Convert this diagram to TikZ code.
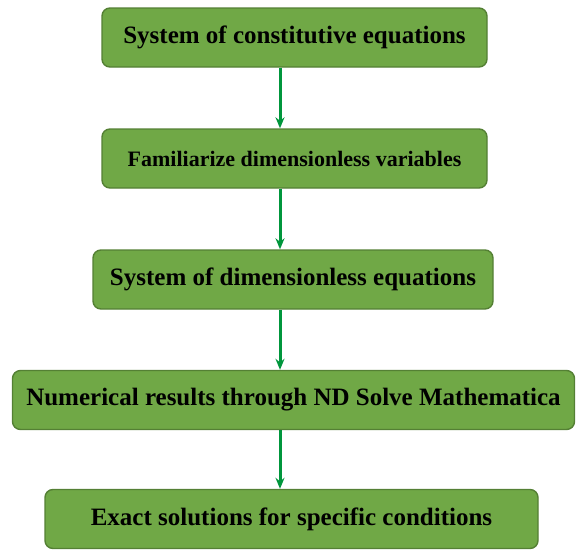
\documentclass[tikz,border=0pt]{standalone}
\usepackage{fontspec}
\setmainfont{Liberation Serif}
\usetikzlibrary{positioning, arrows.meta, calc}
\definecolor{cBox}{RGB}{112,168,70}
\definecolor{cEdge}{RGB}{84,128,52}
\definecolor{cArr}{RGB}{0,150,60}

\begin{document}
\begin{tikzpicture}[x=1pt, y=-1pt,
                    every node/.style={font=\fontsize{25}{28}\selectfont\bfseries},
                    stepbox/.style={draw=cEdge, line width=1.4pt, fill=cBox, rounded corners=8pt,
                                    minimum height=59pt, inner sep=0pt},
                    flow/.style={-{Stealth[length=11pt, width=9pt]}, draw=cArr, line width=3pt}]
    \useasboundingbox (0,0) rectangle (578,549);

    % Boxes from top to bottom
    \node[stepbox, minimum width=385pt] (B1) at (294.5, 37.5)  {System of constitutive equations};
    \node[stepbox, minimum width=385pt, font=\fontsize{22}{26}\selectfont\bfseries]
        (B2) at (294.5, 158.5) {Familiarize dimensionless variables};
    \node[stepbox, minimum width=400pt] (B3) at (293, 279.5)   {System of dimensionless equations};
    \node[stepbox, minimum width=562pt] (B4) at (293.5, 400)   {Numerical results through ND Solve Mathematica};
    \node[stepbox, minimum width=493pt] (B5) at (291.5, 519)   {Exact solutions for specific conditions};

    % Arrow line
    \coordinate (ax) at (280, 0);

    % Connectors
    \draw[flow] (B1.south -| ax) -- (B2.north -| ax);
    \draw[flow] (B2.south -| ax) -- (B3.north -| ax);
    \draw[flow] (B3.south -| ax) -- (B4.north -| ax);
    \draw[flow] (B4.south -| ax) -- (B5.north -| ax);
\end{tikzpicture}
\end{document}
